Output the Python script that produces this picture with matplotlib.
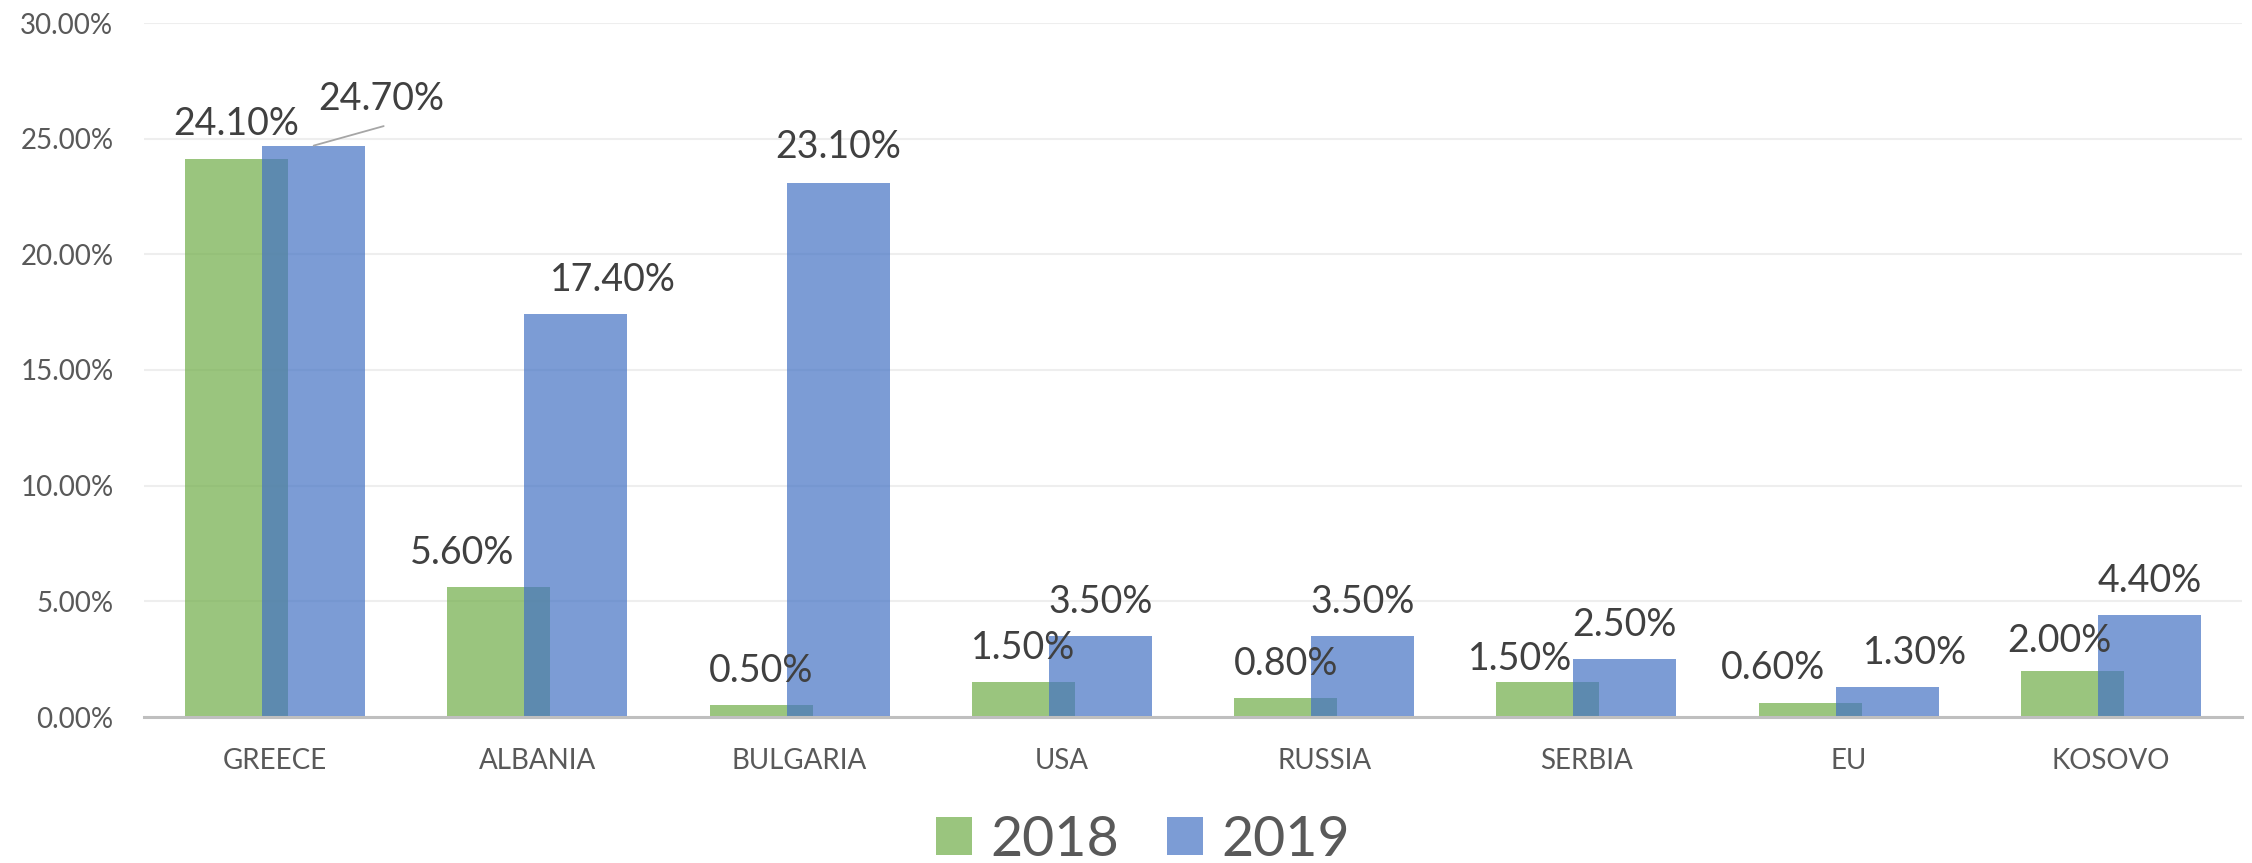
import numpy as np
import matplotlib
matplotlib.use("Agg")
import matplotlib.pyplot as plt

plt.rcParams["font.family"] = ["Lato", "DejaVu Sans"]

countries = ["GREECE", "ALBANIA", "BULGARIA", "USA", "RUSSIA", "SERBIA", "EU", "KOSOVO"]
share_2018 = [24.1, 5.6, 0.5, 1.5, 0.8, 1.5, 0.6, 2.0]
share_2019 = [24.7, 17.4, 23.1, 3.5, 3.5, 2.5, 1.3, 4.4]
yticks = [0, 5, 10, 15, 20, 25, 30]

# label nudges in pixels (x shift, height above bar top), like the dragged excel labels
nudge_2018 = [(0, 24), (-37, 23), (0, 23), (0, 23), (0, 23), (-28, 12), (-37, 24), (-13, 19)]
nudge_2019 = [(68, 36), (37, 23), (0, 25), (0, 23), (0, 23), (0, 23), (28, 23), (0, 23)]

green = "#70AD47"
blue = "#4472C4"
px = 0.72  # points per pixel at dpi 100

fig = plt.figure(figsize=(22.52, 8.63), dpi=100)
ax = fig.add_axes([144 / 2252, 146 / 863, 2098 / 2252, 694 / 863])

x = np.arange(len(countries))
w = 0.393
off = 0.147
ax.bar(x - off, share_2018, w, color=green, alpha=0.7, label="2018", zorder=2)
ax.bar(x + off, share_2019, w, color=blue, alpha=0.7, label="2019", zorder=3)

for i in range(len(countries)):
    ax.annotate(f"{share_2018[i]:.2f}%", xy=(x[i] - off, share_2018[i]),
                xytext=(nudge_2018[i][0] * px, nudge_2018[i][1] * px), textcoords="offset points",
                ha="center", va="baseline", fontsize=27, color="#404040", zorder=5)
    ax.annotate(f"{share_2019[i]:.2f}%", xy=(x[i] + off, share_2019[i]),
                xytext=(nudge_2019[i][0] * px, nudge_2019[i][1] * px), textcoords="offset points",
                ha="center", va="baseline", fontsize=27, color="#404040", zorder=5)

# leader line for the moved GREECE 2019 label
ax.annotate("", xy=(x[0] + off, share_2019[0]), xytext=(70 * px, 19.5 * px),
            textcoords="offset points",
            arrowprops=dict(arrowstyle="-", color="#A6A6A6", lw=1.3, shrinkA=0, shrinkB=0),
            zorder=4)

ax.set_xlim(-0.5, len(countries) - 0.5)
ax.set_ylim(0, 30)
ax.set_yticks(yticks)
ax.set_yticklabels([f"{t:.2f}%" for t in yticks])
ax.set_xticks(x)
ax.set_xticklabels(countries)
ax.tick_params(axis="both", length=0, labelsize=20, labelcolor="#595959", pad=22)
ax.grid(axis="y", color="#EEEEEE", lw=1.5, zorder=0)
for s in ["top", "right", "left"]:
    ax.spines[s].set_visible(False)
ax.spines["bottom"].set_color("#BFBFBF")
ax.spines["bottom"].set_linewidth(2.2)
ax.spines["bottom"].set_zorder(4)

leg = fig.legend(loc="center", bbox_to_anchor=(1143 / 2252, 23 / 863), ncol=2, frameon=False,
                 fontsize=40, handlelength=0.65, handleheight=0.65, handletextpad=0.34,
                 columnspacing=0.85, labelcolor="#595959")

plt.savefig("out.png", dpi=100)
